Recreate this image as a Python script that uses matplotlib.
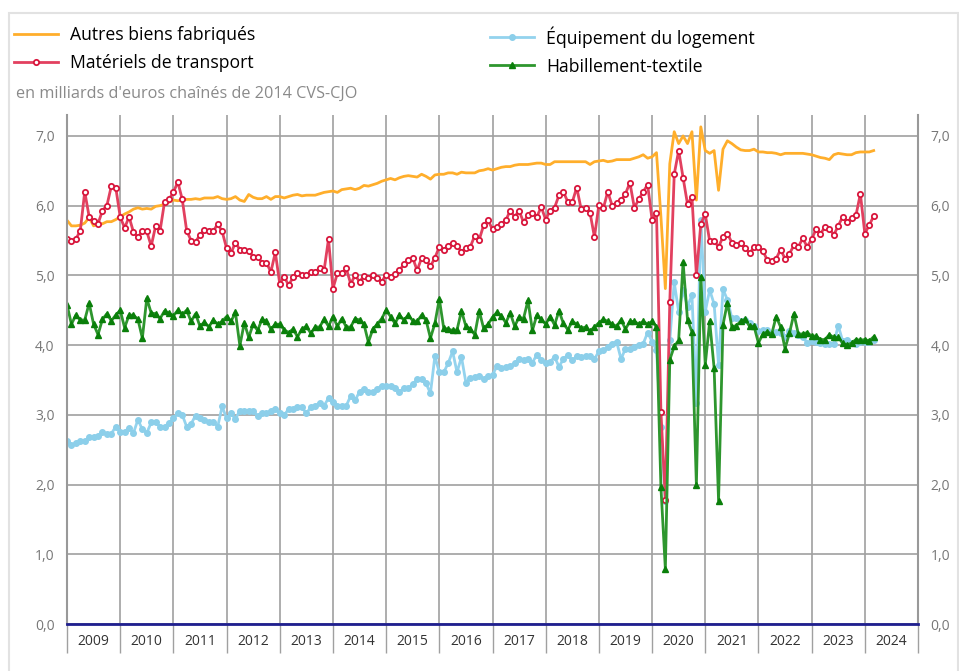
import numpy as np
import matplotlib
matplotlib.use("Agg")
import matplotlib.pyplot as plt
from matplotlib.patches import Rectangle
from matplotlib.ticker import FuncFormatter

plt.rcParams["font.family"] = ["Open Sans", "DejaVu Sans"]

# Monthly series, Jan 2009 -> Mar 2024 (billions of chained 2014 euros)
start_year = 2009
years = list(range(2009, 2025))

autres = [
    5.79, 5.71, 5.71, 5.72, 5.75, 5.83, 5.71, 5.74, 5.74, 5.77, 5.77, 5.80,
    5.84, 5.88, 5.91, 5.95, 5.97, 5.95, 5.96, 5.95, 5.99, 6.00, 6.02, 6.05,
    6.08, 6.07, 6.08, 6.09, 6.09, 6.10, 6.09, 6.11, 6.11, 6.11, 6.13, 6.10,
    6.09, 6.10, 6.13, 6.08, 6.06, 6.16, 6.12, 6.10, 6.10, 6.13, 6.09, 6.13,
    6.13, 6.11, 6.13, 6.15, 6.16, 6.14, 6.15, 6.15, 6.15, 6.17, 6.19, 6.20,
    6.21, 6.19, 6.23, 6.24, 6.25, 6.23, 6.25, 6.29, 6.28, 6.30, 6.32, 6.35,
    6.37, 6.39, 6.37, 6.40, 6.42, 6.43, 6.42, 6.41, 6.45, 6.42, 6.38, 6.44,
    6.45, 6.45, 6.47, 6.47, 6.45, 6.48, 6.47, 6.47, 6.47, 6.50, 6.51, 6.53,
    6.51, 6.53, 6.55, 6.56, 6.56, 6.58, 6.59, 6.59, 6.59, 6.60, 6.61, 6.61,
    6.59, 6.59, 6.63, 6.63, 6.63, 6.63, 6.63, 6.63, 6.63, 6.63, 6.59, 6.63,
    6.64, 6.65, 6.63, 6.64, 6.66, 6.66, 6.66, 6.66, 6.68, 6.70, 6.73, 6.68,
    6.70, 6.76, 5.84, 4.81, 6.60, 7.06, 6.89, 7.00, 6.89, 7.06, 6.08, 7.13,
    6.79, 6.75, 6.79, 6.22, 6.81, 6.93, 6.89, 6.84, 6.80, 6.79, 6.79, 6.81,
    6.77, 6.77, 6.76, 6.76, 6.75, 6.73, 6.75, 6.75, 6.75, 6.75, 6.75, 6.74,
    6.73, 6.71, 6.69, 6.68, 6.66, 6.73, 6.75, 6.74, 6.73, 6.73, 6.76, 6.77,
    6.77, 6.77, 6.79,
]

materiels = [
    5.52, 5.50, 5.52, 5.64, 6.20, 5.84, 5.78, 5.74, 5.93, 6.00, 6.28, 6.26,
    5.84, 5.68, 5.84, 5.62, 5.55, 5.63, 5.63, 5.42, 5.71, 5.64, 6.05, 6.09,
    6.19, 6.34, 6.09, 5.64, 5.50, 5.48, 5.58, 5.65, 5.63, 5.63, 5.74, 5.63,
    5.39, 5.32, 5.47, 5.37, 5.37, 5.35, 5.27, 5.27, 5.18, 5.18, 5.05, 5.33,
    4.88, 4.98, 4.86, 4.97, 5.04, 5.00, 5.00, 5.05, 5.05, 5.10, 5.07, 5.52,
    4.81, 5.03, 5.03, 5.10, 4.88, 5.00, 4.91, 4.99, 4.96, 5.01, 4.96, 4.91,
    5.01, 4.98, 5.02, 5.07, 5.16, 5.22, 5.25, 5.07, 5.25, 5.22, 5.13, 5.25,
    5.41, 5.36, 5.42, 5.47, 5.42, 5.34, 5.39, 5.41, 5.57, 5.51, 5.72, 5.79,
    5.66, 5.69, 5.74, 5.79, 5.93, 5.84, 5.93, 5.76, 5.86, 5.89, 5.84, 5.98,
    5.80, 5.93, 5.97, 6.15, 6.20, 6.05, 6.05, 6.26, 5.95, 5.96, 5.90, 5.55,
    6.01, 5.96, 6.20, 6.00, 6.04, 6.08, 6.17, 6.33, 5.97, 6.09, 6.20, 6.30,
    5.80, 5.90, 3.04, 1.78, 4.62, 6.45, 6.79, 6.40, 6.02, 6.13, 5.00, 5.74,
    5.88, 5.49, 5.49, 5.41, 5.55, 5.60, 5.47, 5.44, 5.46, 5.39, 5.32, 5.40,
    5.40, 5.35, 5.22, 5.20, 5.24, 5.37, 5.24, 5.31, 5.43, 5.41, 5.53, 5.41,
    5.52, 5.66, 5.60, 5.69, 5.67, 5.58, 5.71, 5.84, 5.77, 5.82, 5.86, 6.17,
    5.60, 5.72, 5.85,
]

equipement = [
    2.62, 2.57, 2.59, 2.62, 2.62, 2.68, 2.68, 2.70, 2.75, 2.73, 2.73, 2.83,
    2.76, 2.76, 2.81, 2.74, 2.93, 2.79, 2.74, 2.89, 2.89, 2.83, 2.83, 2.88,
    2.95, 3.02, 3.00, 2.83, 2.87, 2.99, 2.95, 2.93, 2.90, 2.90, 2.83, 3.12,
    2.95, 3.02, 2.94, 3.06, 3.05, 3.06, 3.06, 2.98, 3.02, 3.02, 3.06, 3.08,
    3.02, 3.00, 3.08, 3.08, 3.11, 3.11, 3.02, 3.11, 3.13, 3.17, 3.13, 3.24,
    3.19, 3.13, 3.13, 3.13, 3.27, 3.21, 3.33, 3.37, 3.33, 3.33, 3.37, 3.42,
    3.41, 3.41, 3.39, 3.33, 3.38, 3.38, 3.44, 3.51, 3.51, 3.45, 3.31, 3.84,
    3.61, 3.61, 3.74, 3.91, 3.61, 3.83, 3.46, 3.53, 3.54, 3.56, 3.51, 3.56,
    3.57, 3.70, 3.67, 3.69, 3.70, 3.74, 3.80, 3.79, 3.80, 3.75, 3.86, 3.79,
    3.75, 3.76, 3.83, 3.69, 3.80, 3.86, 3.78, 3.84, 3.83, 3.84, 3.84, 3.80,
    3.91, 3.93, 3.97, 4.02, 4.05, 3.80, 3.95, 3.94, 3.97, 4.00, 4.02, 4.18,
    4.05, 3.93, 2.83, 1.76, 4.07, 4.90, 4.48, 4.79, 4.55, 4.72, 3.17, 5.80,
    4.48, 4.79, 4.59, 3.72, 4.80, 4.65, 4.39, 4.39, 4.34, 4.36, 4.32, 4.28,
    4.20, 4.22, 4.22, 4.16, 4.19, 4.17, 4.11, 4.20, 4.17, 4.15, 4.12, 4.03,
    4.06, 4.04, 4.03, 4.02, 4.02, 4.02, 4.28, 4.06, 4.07, 4.03, 4.02, 4.05,
    4.04, 4.05, 4.07,
]

habillement = [
    4.58, 4.30, 4.43, 4.36, 4.36, 4.60, 4.30, 4.15, 4.37, 4.45, 4.35, 4.43,
    4.50, 4.25, 4.43, 4.43, 4.37, 4.10, 4.67, 4.46, 4.45, 4.38, 4.49, 4.46,
    4.42, 4.50, 4.44, 4.50, 4.34, 4.45, 4.27, 4.33, 4.26, 4.36, 4.30, 4.34,
    4.41, 4.34, 4.47, 3.99, 4.32, 4.11, 4.30, 4.21, 4.37, 4.34, 4.23, 4.30,
    4.30, 4.22, 4.18, 4.23, 4.12, 4.23, 4.27, 4.17, 4.26, 4.26, 4.37, 4.27,
    4.41, 4.27, 4.38, 4.26, 4.26, 4.38, 4.36, 4.30, 4.04, 4.23, 4.30, 4.38,
    4.50, 4.41, 4.31, 4.43, 4.36, 4.43, 4.35, 4.34, 4.43, 4.36, 4.10, 4.31,
    4.66, 4.24, 4.23, 4.21, 4.22, 4.49, 4.27, 4.23, 4.15, 4.49, 4.24, 4.30,
    4.40, 4.47, 4.42, 4.32, 4.46, 4.27, 4.40, 4.38, 4.64, 4.21, 4.43, 4.37,
    4.30, 4.41, 4.29, 4.49, 4.31, 4.22, 4.34, 4.30, 4.24, 4.26, 4.20, 4.26,
    4.32, 4.37, 4.34, 4.30, 4.27, 4.36, 4.23, 4.34, 4.34, 4.30, 4.34, 4.30,
    4.34, 4.26, 1.96, 0.79, 3.79, 3.98, 4.07, 5.19, 4.36, 4.19, 1.99, 4.98,
    3.72, 4.34, 3.67, 1.77, 4.29, 4.61, 4.26, 4.28, 4.34, 4.37, 4.27, 4.27,
    4.03, 4.16, 4.19, 4.16, 4.41, 4.26, 3.95, 4.17, 4.45, 4.16, 4.16, 4.18,
    4.13, 4.13, 4.08, 4.08, 4.15, 4.11, 4.11, 4.03, 4.00, 4.03, 4.08, 4.07,
    4.08, 4.06, 4.12,
]

x = start_year + np.arange(len(autres)) / 12

fig = plt.figure(figsize=(9.59, 6.71), dpi=100)
ax = fig.add_axes([67 / 959, 47 / 671, 851 / 959, 509 / 671])

l_autres, = ax.plot(x, autres, color="#ffae2b", lw=2, label="Autres biens fabriqués")
l_equip, = ax.plot(x, equipement, color="#93d3ee", lw=2, marker="o", ms=4,
                   mfc="#8ccfea", mec="#8ccfea", label="Équipement du logement")
l_mat, = ax.plot(x, materiels, color="#e2405f", lw=2, marker="o", ms=3.8,
                 mfc="white", mec="#d8163c", mew=1.3, label="Matériels de transport")
l_hab, = ax.plot(x, habillement, color="#2e962e", lw=2, marker="^", ms=5,
                 mfc="#0a7f0a", mec="#0a7f0a", label="Habillement-textile")

ax.set_xlim(2009, 2025)
ax.set_ylim(0, 7.3)
ax.set_yticks(range(8))
ax.yaxis.set_major_formatter(FuncFormatter(lambda v, p: f"{v:.1f}".replace(".", ",")))
ax.tick_params(axis="y", length=0, labelsize=10, labelcolor="#777777",
               labelleft=True, labelright=True, pad=9)
ax.grid(axis="y", color="#a0a0a0", lw=1.2)

ax.set_xticks(range(2009, 2026))
ax.set_xticks([y + 0.5 for y in years], minor=True)
ax.set_xticklabels([str(y) for y in years], minor=True)
ax.tick_params(axis="x", which="major", length=21, color="#a0a0a0", width=1, labelbottom=False)
ax.tick_params(axis="x", which="minor", length=0, pad=7, labelsize=10, labelcolor="#333333")
ax.grid(axis="x", which="major", color="#a0a0a0", lw=1.2)
ax.set_axisbelow(True)

ax.spines["top"].set_visible(False)
for s in ["left", "right"]:
    ax.spines[s].set_color("#999999")
    ax.spines[s].set_linewidth(1.5)
ax.spines["bottom"].set_color("#1f1f8f")
ax.spines["bottom"].set_linewidth(2)

# card border
fig.add_artist(Rectangle((9 / 959, -0.02), 949 / 959, 1 - 13 / 671 + 0.02,
                         transform=fig.transFigure, fill=False, ec="#e2e2e2", lw=1.5))

fig.text(16 / 959, 1 - 94 / 671, "en milliards d'euros chaînés de 2014 CVS-CJO",
         color="#8a8a8a", fontsize=11.7, va="center")

leg_kw = dict(frameon=False, fontsize=12.7, handlelength=2.5, handletextpad=0.68,
              labelspacing=0.57, borderpad=0, borderaxespad=0, numpoints=1)
leg1 = fig.legend([l_autres, l_mat], ["Autres biens fabriqués", "Matériels de transport"],
                  loc="upper left", bbox_to_anchor=(14 / 959, 1 - 26 / 671), **leg_kw)
leg2 = fig.legend([l_equip, l_hab], ["Équipement du logement", "Habillement-textile"],
                  loc="upper left", bbox_to_anchor=(490 / 959, 1 - 26 / 671), **leg_kw)

fig.savefig("out.png", dpi=100)
